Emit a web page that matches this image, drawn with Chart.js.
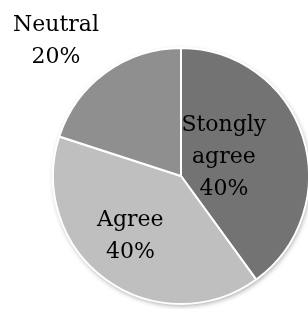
<!DOCTYPE html>
<html>
<head>
<meta charset="utf-8">
<script src="https://cdn.jsdelivr.net/npm/chart.js@4"></script>
<style>
  html, body { margin:0; padding:0; background:#fff; overflow:hidden; }
  #wrap { width:312px; height:309px; position:relative; }
</style>
</head>
<body>
<div id="wrap"><canvas id="pie"></canvas></div>
<script>
// data
const categories = ['Stongly agree', 'Agree', 'Neutral'];
const shares = [40, 40, 20];
const labelLines = [['Stongly', 'agree', '40%'], ['Agree', '40%'], ['Neutral', '20%']];
const sliceColours = ['#737373', '#bfbfbf', '#8f8f8f'];

// where each label sits: angle clockwise from 12 o'clock (deg), distance as fraction of radius
const labelSpots = [{a:73, d:0.35}, {a:217.5, d:0.65}, {a:316, d:1.406}];

const shadowPlugin = {
  id: 'pieShadow',
  beforeDatasetsDraw(chart) {
    const arc = chart.getDatasetMeta(0).data[0];
    if (!arc) return;
    const ctx = chart.ctx;
    ctx.save();
    ctx.shadowColor = 'rgba(0,0,0,0.35)';
    ctx.shadowBlur = 5;
    ctx.shadowOffsetX = 1;
    ctx.shadowOffsetY = 2;
    ctx.fillStyle = '#fff';
    ctx.beginPath();
    ctx.arc(arc.x, arc.y, arc.outerRadius, 0, Math.PI * 2);
    ctx.fill();
    ctx.restore();
  }
};

const labelPlugin = {
  id: 'sliceLabels',
  afterDatasetsDraw(chart) {
    const meta = chart.getDatasetMeta(0);
    const ctx = chart.ctx;
    ctx.save();
    ctx.font = '22px "DejaVu Serif", serif';
    ctx.fillStyle = '#000';
    ctx.textAlign = 'center';
    ctx.textBaseline = 'alphabetic';
    meta.data.forEach((arc, i) => {
      const s = labelSpots[i];
      const t = s.a * Math.PI / 180;
      const cx = arc.x + Math.sin(t) * arc.outerRadius * s.d;
      const cy = arc.y - Math.cos(t) * arc.outerRadius * s.d;
      const lines = labelLines[i];
      const lh = 32;
      lines.forEach((ln, k) => {
        ctx.fillText(ln, cx, cy + (k - (lines.length - 1) / 2) * lh);
      });
    });
    ctx.restore();
  }
};

new Chart(document.getElementById('pie'), {
  type: 'pie',
  plugins: [shadowPlugin, labelPlugin],
  data: {
    labels: categories,
    datasets: [{
      data: shares,
      backgroundColor: sliceColours,
      borderColor: '#fff',
      borderWidth: 2
    }]
  },
  options: {
    responsive: true,
    maintainAspectRatio: false,
    animation: false,
    layout: { padding: { left: 52, right: 2, top: 47, bottom: 4 } },
    plugins: {
      legend: { display: false },
      tooltip: { enabled: false }
    }
  }
});
</script>
</body>
</html>
